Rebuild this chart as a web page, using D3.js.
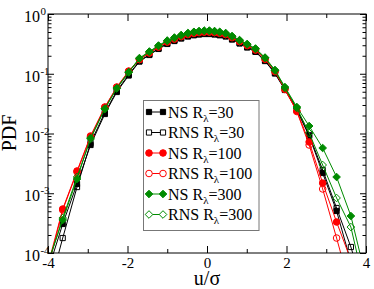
<!DOCTYPE html>
<html>
<head>
<meta charset="utf-8">
<script src="https://cdn.jsdelivr.net/npm/d3@7"></script>
<style>
body{margin:0;background:white;}
</style>
</head>
<body>
<div id="viz-container"></div>
<script>
let svgWidth = 374;
let svgHeight = 289;
let plotLeft = 48, plotRight = 366, plotTop = 14, plotBottom = 253;

// bin centres (u/sigma)
let uBins = [-3.98,-3.63,-3.27,-2.93,-2.57,-2.27,-1.97,-1.70,-1.45,-1.22,-1.00,-0.82,-0.65,-0.48,-0.33,-0.20,-0.07,
    0.06,0.19,0.32,0.47,0.63,0.82,1.01,1.22,1.46,1.71,1.96,2.26,2.57,2.91,3.26,3.62,3.98];

let nsR30 = [5.61e-5,3.06e-4,1.43e-3,6.42e-3,0.0212,0.0495,0.0935,0.160,0.206,0.260,0.315,0.353,0.389,0.420,0.440,0.454,0.462,
    0.462,0.454,0.440,0.420,0.374,0.321,0.275,0.232,0.163,0.101,0.0535,0.0247,9.08e-3,2.18e-3,5.05e-4,7.07e-5,1.11e-5];
let rnsR30 = [2.4e-5,1.78e-4,1.27e-3,6.93e-3,0.0225,0.0514,0.0971,0.163,0.210,0.265,0.321,0.360,0.396,0.429,0.449,0.462,0.471,
    0.471,0.462,0.449,0.429,0.381,0.327,0.281,0.236,0.167,0.103,0.0556,0.0257,9.44e-3,2.45e-3,5.66e-4,1.26e-4,1.98e-5];
let nsR100 = [7.07e-5,5.45e-4,2.36e-3,9.08e-3,0.0278,0.0600,0.111,0.173,0.223,0.280,0.340,0.381,0.420,0.454,0.476,0.490,0.499,
    0.499,0.490,0.476,0.454,0.404,0.346,0.297,0.250,0.176,0.109,0.0556,0.0238,7.21e-3,1.48e-3,3.30e-4,7.63e-5,1.63e-5];
let rnsR100 = [6.3e-5,5.24e-4,2.27e-3,8.74e-3,0.0272,0.0589,0.109,0.173,0.223,0.280,0.340,0.381,0.420,0.454,0.476,0.490,0.499,
    0.499,0.490,0.476,0.454,0.404,0.346,0.297,0.250,0.176,0.109,0.0545,0.0233,6.42e-3,1.18e-3,1.78e-4,2.4e-5,4e-6];
let nsR300 = [7.6e-5,3.57e-4,1.73e-3,8.41e-3,0.0257,0.0577,0.107,0.183,0.236,0.297,0.360,0.404,0.445,0.481,0.504,0.519,0.529,
    0.529,0.519,0.504,0.481,0.428,0.367,0.315,0.265,0.187,0.1156,0.060,0.0278,0.01335,5.72e-3,1.87e-3,4.16e-4,4.3e-5];
let rnsR300 = [7.07e-5,3.85e-4,1.87e-3,8.09e-3,0.0262,0.0566,0.105,0.179,0.231,0.291,0.353,0.396,0.436,0.471,0.494,0.509,0.518,
    0.518,0.509,0.494,0.471,0.419,0.360,0.309,0.260,0.183,0.113,0.0577,0.0267,0.0102,2.97e-3,8.33e-4,2.72e-4,2.5e-5];

let xTickValues = [-4,-2,0,2,4];
let xTickLabels = ["-4","-2","0","2","4"];
let xMinorValues = [-3,-1,1,3];
let yTickValues = [1,0.1,0.01,0.001,0.0001];
let yExponents = ["0","-1","-2","-3","-4"];
let legendNames = ["NS","RNS","NS","RNS","NS","RNS"];
let legendRe = ["30","30","100","100","300","300"];

let green = "rgb(0,139,0)";
let series = [
    {values: nsR30, color: "black", shape: "square", filled: true},
    {values: rnsR30, color: "black", shape: "square", filled: false},
    {values: nsR100, color: "red", shape: "circle", filled: true},
    {values: rnsR100, color: "red", shape: "circle", filled: false},
    {values: nsR300, color: green, shape: "diamond", filled: true},
    {values: rnsR300, color: green, shape: "diamond", filled: false}
];

let viz = d3.select("#viz-container")
 .append("svg")
    .attr("width",svgWidth)
    .attr("height",svgHeight)
    .style("background-color","white")
    ;

let xScale = d3.scaleLinear().domain([-4,4]).range([plotLeft,plotRight]);
let yScale = d3.scaleLog().domain([1e-4,1]).range([plotBottom,plotTop]);

viz.append("clipPath").attr("id","plotClip")
    .append("rect")
    .attr("x",plotLeft).attr("y",plotTop)
    .attr("width",plotRight-plotLeft).attr("height",plotBottom-plotTop);

function markerPath(shape){
    if(shape == "square"){
        return "M-2.6,-2.6h5.2v5.2h-5.2z";
    }else if(shape == "circle"){
        return "M-3.3,0a3.3,3.3 0 1,0 6.6,0a3.3,3.3 0 1,0 -6.6,0";
    }else{
        return "M0,-3.8L3.8,0L0,3.8L-3.8,0Z";
    }
}

let lineGen = d3.line()
    .x((d,i) => xScale(uBins[i]))
    .y(d => yScale(d));

let plotArea = viz.append("g").attr("clip-path","url(#plotClip)");

series.forEach(function(s){
    let g = plotArea.append("g");
    g.append("path")
        .attr("d",lineGen(s.values))
        .attr("fill","none")
        .attr("stroke",s.color)
        .attr("stroke-width",1)
        ;
    g.selectAll(".pt").data(s.values).enter()
        .append("path")
        .attr("class","pt")
        .attr("d",markerPath(s.shape))
        .attr("transform",(d,i) => "translate(" + xScale(uBins[i]) + "," + yScale(d) + ")")
        .attr("fill",s.filled ? s.color : "none")
        .attr("stroke",s.color)
        .attr("stroke-width",1)
        ;
});

// axes, ticks pointing inward
let fontFam = "'Liberation Serif','Times New Roman',serif";

function cleanAxis(g){
    g.select(".domain").remove();
    g.selectAll(".tick line").attr("stroke","black");
    g.attr("font-family",fontFam);
}

viz.append("g")
    .attr("transform","translate(0," + plotBottom + ")")
    .call(d3.axisBottom(xScale).tickValues(xTickValues).tickSize(-7).tickSizeOuter(0).tickPadding(4)
        .tickFormat((d,i) => xTickLabels[i]))
    .call(cleanAxis)
    .attr("font-size",15)
    .selectAll("text").attr("fill","black");

viz.append("g")
    .attr("transform","translate(0," + plotBottom + ")")
    .call(d3.axisBottom(xScale).tickValues(xMinorValues).tickSize(-4).tickSizeOuter(0).tickFormat(""))
    .call(cleanAxis);

viz.append("g")
    .attr("transform","translate(0," + plotTop + ")")
    .call(d3.axisTop(xScale).tickValues(xTickValues).tickSize(-7).tickSizeOuter(0).tickFormat(""))
    .call(cleanAxis);

viz.append("g")
    .attr("transform","translate(0," + plotTop + ")")
    .call(d3.axisTop(xScale).tickValues(xMinorValues).tickSize(-4).tickSizeOuter(0).tickFormat(""))
    .call(cleanAxis);

let yMinorValues = [];
for(let e = -4; e < 0; e++){
    for(let k = 2; k < 10; k++){
        yMinorValues.push(k * Math.pow(10,e));
    }
}

let yLeft = viz.append("g")
    .attr("transform","translate(" + plotLeft + ",0)")
    .call(d3.axisLeft(yScale).tickValues(yTickValues).tickSize(-6).tickSizeOuter(0).tickFormat(""))
    .call(cleanAxis);

yLeft.selectAll(".tick").each(function(d,i){
    let t = d3.select(this);
    t.select("text").remove();
    t.append("text")
        .attr("x",-8).attr("y",7.5)
        .attr("text-anchor","end")
        .attr("font-size",16)
        .attr("fill","black")
        .text("10");
    t.append("text")
        .attr("x",-7.6).attr("y",0.5)
        .attr("text-anchor","start")
        .attr("font-size",11)
        .attr("fill","black")
        .text(yExponents[i]);
});

viz.append("g")
    .attr("transform","translate(" + plotLeft + ",0)")
    .call(d3.axisLeft(yScale).tickValues(yMinorValues).tickSize(-3.5).tickSizeOuter(0).tickFormat(""))
    .call(cleanAxis);

viz.append("g")
    .attr("transform","translate(" + plotRight + ",0)")
    .call(d3.axisRight(yScale).tickValues(yTickValues).tickSize(-6).tickSizeOuter(0).tickFormat(""))
    .call(cleanAxis);

viz.append("g")
    .attr("transform","translate(" + plotRight + ",0)")
    .call(d3.axisRight(yScale).tickValues(yMinorValues).tickSize(-3.5).tickSizeOuter(0).tickFormat(""))
    .call(cleanAxis);

// frame
viz.append("rect")
    .attr("x",plotLeft).attr("y",plotTop)
    .attr("width",plotRight-plotLeft).attr("height",plotBottom-plotTop)
    .attr("fill","none")
    .attr("stroke","black")
    .attr("stroke-width",1)
    ;

// axis titles
viz.append("text")
    .attr("x",(plotLeft+plotRight)/2).attr("y",285)
    .attr("text-anchor","middle")
    .attr("font-family",fontFam)
    .attr("font-size",20)
    .text("u/σ");

viz.append("text")
    .attr("transform","translate(16,133) rotate(-90)")
    .attr("text-anchor","middle")
    .attr("font-family",fontFam)
    .attr("font-size",20)
    .text("PDF");

// legend
let legend = viz.append("g");
legend.append("rect")
    .attr("x",143.5).attr("y",100.5)
    .attr("width",115.5).attr("height",130)
    .attr("fill","white")
    .attr("stroke","#777")
    .attr("stroke-width",1)
    ;

series.forEach(function(s,i){
    let cy = 112 + i * 20.5;
    let row = legend.append("g");
    row.append("line")
        .attr("x1",149).attr("x2",163)
        .attr("y1",cy).attr("y2",cy)
        .attr("stroke",s.color)
        .attr("stroke-width",1)
        ;
    [149,163].forEach(function(mx){
        row.append("path")
            .attr("d",markerPath(s.shape))
            .attr("transform","translate(" + mx + "," + cy + ")")
            .attr("fill",s.filled ? s.color : "white")
            .attr("stroke",s.color)
            .attr("stroke-width",1)
            ;
    });
    let txt = row.append("text")
        .attr("x",168).attr("y",cy+5.5)
        .attr("font-family",fontFam)
        .attr("font-size",16)
        .attr("fill","black");
    txt.append("tspan").text(legendNames[i] + " R");
    txt.append("tspan").attr("font-size",11).attr("dy",4).text("λ");
    txt.append("tspan").attr("dy",-4).text("=" + legendRe[i]);
});
</script>
</body>
</html>
